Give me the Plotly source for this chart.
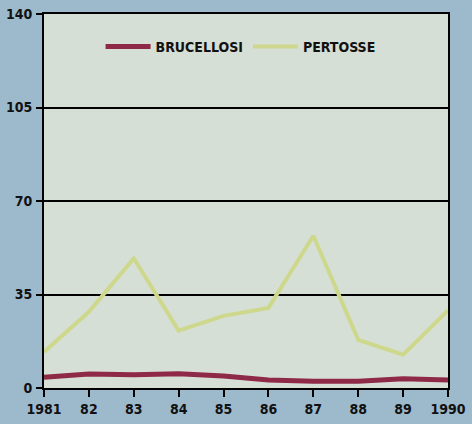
import plotly.graph_objects as go

years = [1981, 1982, 1983, 1984, 1985, 1986, 1987, 1988, 1989, 1990]
tick_labels = ["1981", "82", "83", "84", "85", "86", "87", "88", "89", "1990"]
brucellosi = [4, 5.2, 5, 5.3, 4.5, 3, 2.5, 2.5, 3.5, 3]
pertosse = [13.5, 28.5, 48.5, 21.5, 27, 30, 57, 18, 12.5, 29]
y_ticks = [0, 35, 70, 105, 140]

FONT = "Liberation Sans Narrow, Arial Narrow, DejaVu Sans Condensed, sans-serif"
BG = "#9db9cc"

fig = go.Figure()
fig.add_trace(go.Scatter(x=years, y=brucellosi, mode="lines", name="<b>BRUCELLOSI</b>",
                         line=dict(color="#8e2a48", width=5)))
fig.add_trace(go.Scatter(x=years, y=pertosse, mode="lines", name="<b>PERTOSSE</b>",
                         line=dict(color="#cdd88c", width=4)))

fig.update_layout(
    width=472, height=424,
    margin=dict(l=44, r=24, t=14, b=36),
    paper_bgcolor=BG,
    plot_bgcolor="#d6dfd5",
    font=dict(family=FONT, size=14, color="#111111"),
    showlegend=True,
    legend=dict(orientation="h", x=0.14, y=0.955, xanchor="left", yanchor="top",
                bgcolor="rgba(0,0,0,0)", font=dict(size=14, family=FONT),
                itemwidth=45, tracegroupgap=0),
)
fig.update_xaxes(range=[1981, 1990], tickvals=years, ticktext=[f"<b>{t}</b>" for t in tick_labels],
                 showgrid=False, zeroline=False, showline=True, linecolor="black", linewidth=2,
                 mirror=True, ticks="outside", ticklen=7, tickwidth=2, tickcolor="black",
                 automargin=False)
fig.update_yaxes(range=[0, 140], tickvals=y_ticks, ticktext=[f"<b>{v}</b>" for v in y_ticks],
                 showgrid=True, gridcolor="black", gridwidth=2, zeroline=False,
                 showline=True, linecolor="black", linewidth=2, mirror=True,
                 ticks="outside", ticklen=6, tickwidth=2, tickcolor="black",
                 ticklabelstandoff=1, automargin=False)

fig.write_html("out.html", config={"displayModeBar": False},
               post_script=f"document.body.style.margin='0';document.body.style.background='{BG}';")
